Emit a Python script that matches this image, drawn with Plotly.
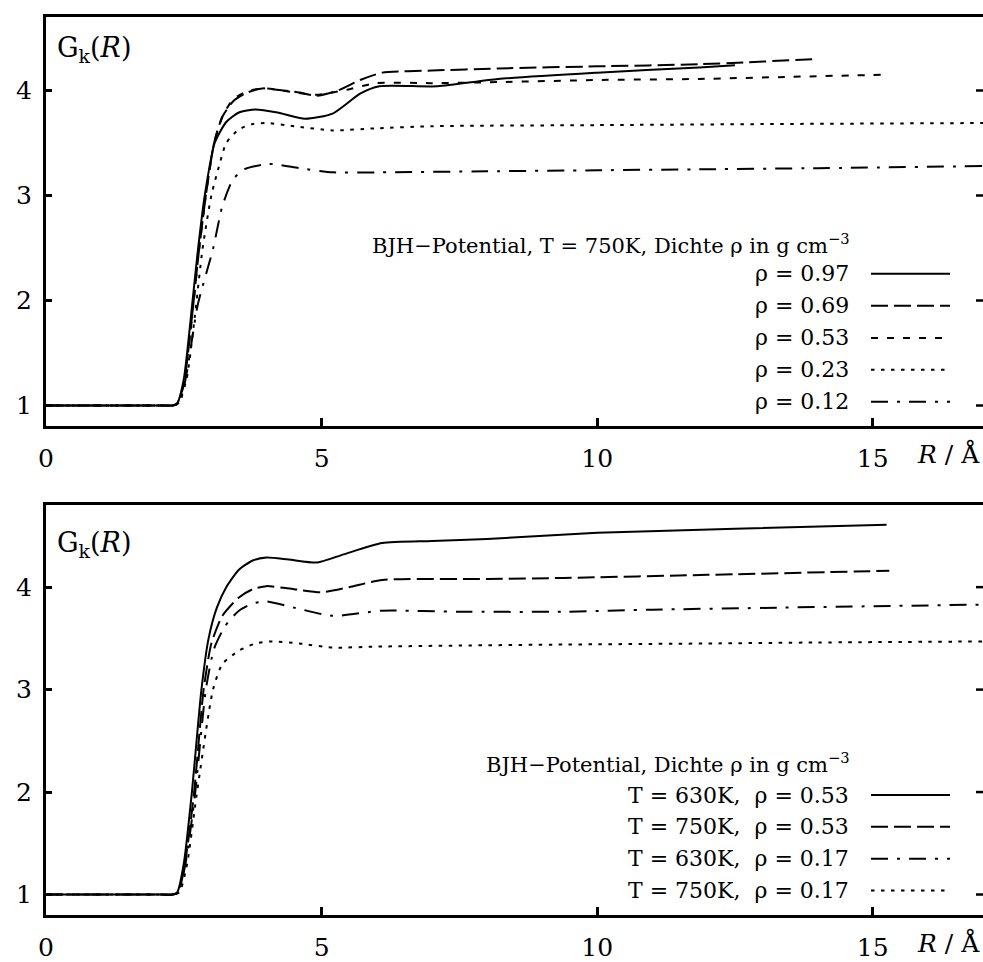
import plotly.graph_objects as go

# ---------------- data ----------------
# Top panel: BJH potential, T = 750 K, various densities
top_labels = ["ρ = 0.97", "ρ = 0.69", "ρ = 0.53", "ρ = 0.23", "ρ = 0.12"]

r_097 = [0, 1.0, 2.0, 2.3, 2.38, 2.5, 2.65, 2.75, 2.88, 3.06, 3.27, 3.5, 3.8, 4.2, 4.7, 5.2, 5.7, 6.05, 7.1, 8.2, 10.0, 11.85, 12.5]
g_097 = [1, 1.0, 1.0, 1.0, 1.02, 1.25, 1.95, 2.45, 3.0, 3.5, 3.7, 3.79, 3.82, 3.79, 3.73, 3.78, 3.97, 4.04, 4.04, 4.11, 4.17, 4.22, 4.24]

r_069 = [0, 1.0, 2.0, 2.3, 2.38, 2.5, 2.65, 2.77, 2.9, 3.05, 3.2, 3.4, 3.65, 3.93, 4.3, 4.6, 4.9, 5.3, 5.7, 6.1, 7.0, 8.2, 10.0, 11.85, 14.0]
g_069 = [1, 1.0, 1.0, 1.0, 1.02, 1.2, 1.85, 2.45, 3.0, 3.5, 3.75, 3.9, 3.98, 4.02, 4.0, 3.98, 3.95, 4.0, 4.1, 4.17, 4.19, 4.21, 4.23, 4.25, 4.30]

r_053 = [0, 1.0, 2.0, 2.3, 2.38, 2.5, 2.65, 2.77, 2.9, 3.05, 3.2, 3.4, 3.7, 4.0, 4.4, 4.9, 5.4, 6.0, 7.0, 8.2, 10.0, 11.85, 13.5, 15.17]
g_053 = [1, 1.0, 1.0, 1.0, 1.02, 1.2, 1.85, 2.45, 3.0, 3.5, 3.75, 3.92, 4.0, 4.02, 3.99, 3.96, 4.0, 4.07, 4.07, 4.08, 4.1, 4.11, 4.13, 4.15]

r_023 = [0, 1.0, 2.0, 2.3, 2.4, 2.55, 2.7, 2.84, 3.0, 3.15, 3.27, 3.5, 3.75, 4.0, 4.5, 5.2, 6.0, 7.0, 10.0, 13.0, 17.0]
g_023 = [1, 1.0, 1.0, 1.0, 1.02, 1.25, 1.85, 2.49, 3.0, 3.3, 3.5, 3.63, 3.68, 3.69, 3.66, 3.62, 3.64, 3.66, 3.67, 3.68, 3.69]

r_012 = [0, 1.0, 2.0, 2.3, 2.42, 2.55, 2.75, 3.03, 3.2, 3.39, 3.6, 4.05, 4.6, 5.2, 6.0, 8.0, 10.0, 12.0, 14.0, 17.0]
g_012 = [1, 1.0, 1.0, 1.0, 1.02, 1.3, 1.95, 2.49, 2.9, 3.15, 3.25, 3.30, 3.26, 3.22, 3.22, 3.23, 3.24, 3.25, 3.26, 3.28]

# Bottom panel: BJH potential, two temperatures, two densities
bot_labels = ["T = 630K,\u00a0 ρ = 0.53", "T = 750K,\u00a0 ρ = 0.53",
              "T = 630K,\u00a0 ρ = 0.17", "T = 750K,\u00a0 ρ = 0.17"]

r_630_053 = [0, 1.0, 2.0, 2.3, 2.38, 2.5, 2.64, 2.82, 2.95, 3.1, 3.27, 3.5, 3.75, 4.0, 4.4, 4.92, 5.4, 6.1, 7.0, 8.0, 10.0, 12.5, 15.25]
g_630_053 = [1, 1.0, 1.0, 1.0, 1.02, 1.3, 1.96, 3.0, 3.5, 3.8, 4.0, 4.17, 4.26, 4.29, 4.27, 4.24, 4.32, 4.43, 4.45, 4.47, 4.53, 4.57, 4.61]

r_750_053 = [0, 1.0, 2.0, 2.3, 2.4, 2.52, 2.68, 2.86, 3.0, 3.2, 3.5, 3.75, 4.0, 4.5, 5.0, 5.5, 6.1, 8.0, 9.4, 12.0, 15.3]
g_750_053 = [1, 1.0, 1.0, 1.0, 1.02, 1.3, 1.96, 3.0, 3.45, 3.72, 3.9, 3.98, 4.01, 3.98, 3.95, 4.0, 4.07, 4.08, 4.09, 4.12, 4.16]

r_630_017 = [0, 1.0, 2.0, 2.3, 2.4, 2.53, 2.7, 2.9, 3.05, 3.25, 3.5, 3.75, 4.0, 4.5, 5.2, 6.1, 7.5, 9.4, 11.0, 13.3, 17.0]
g_630_017 = [1, 1.0, 1.0, 1.0, 1.02, 1.3, 1.96, 3.0, 3.4, 3.62, 3.77, 3.84, 3.86, 3.8, 3.72, 3.77, 3.76, 3.76, 3.78, 3.80, 3.83]

r_750_017 = [0, 1.0, 2.0, 2.3, 2.42, 2.56, 2.73, 3.03, 3.2, 3.5, 3.8, 4.1, 4.6, 5.2, 6.0, 7.5, 9.4, 12.0, 14.0, 17.0]
g_750_017 = [1, 1.0, 1.0, 1.0, 1.02, 1.3, 1.96, 3.0, 3.25, 3.38, 3.45, 3.47, 3.45, 3.41, 3.42, 3.43, 3.44, 3.45, 3.46, 3.47]

x_ticks = [0, 5, 10, 15]
y_ticks = [1, 2, 3, 4]
top_header = "BJH−Potential, T = 750K, Dichte ρ in g cm<sup>−3</sup>"
bot_header = "BJH−Potential, Dichte ρ in g cm<sup>−3</sup>"

# ---------------- styling / layout ----------------
W, H = 983, 962
L, R = 46, 983
T1, B1 = 16.8, 428.4
T2, B2 = 507.6, 919.6
FONT = "DejaVu Serif"
FS_TICK = 25
FS_LEG = 22
FS_HEAD = 21
FS_TITLE = 27

DASH = {
    "solid": "solid",
    "long": "17px,6px",
    "short": "7px,9px",
    "dot": "3.5px,6.5px",
    "dashdot": "17px,9px,3px,9px",
}

top_series = [(r_097, g_097, "solid"), (r_069, g_069, "long"), (r_053, g_053, "short"),
              (r_023, g_023, "dot"), (r_012, g_012, "dashdot")]
bot_series = [(r_630_053, g_630_053, "solid"), (r_750_053, g_750_053, "long"),
              (r_630_017, g_630_017, "dashdot"), (r_750_017, g_750_017, "dot")]

fig = go.Figure()
for (rx, gy, st), lab in zip(top_series, top_labels):
    fig.add_trace(go.Scatter(x=rx, y=gy, mode="lines", name=lab, xaxis="x", yaxis="y",
                             line=dict(color="black", width=2, dash=DASH[st], shape="spline", smoothing=0.6),
                             showlegend=False))
for (rx, gy, st), lab in zip(bot_series, bot_labels):
    fig.add_trace(go.Scatter(x=rx, y=gy, mode="lines", name=lab, xaxis="x2", yaxis="y2",
                             line=dict(color="black", width=2, dash=DASH[st], shape="spline", smoothing=0.6),
                             showlegend=False))

plot_h = B2 - T1
dom_top = [(B2 - B1) / plot_h, 1.0]
dom_bot = [0.0, (B2 - T2) / plot_h]

axis_common = dict(showgrid=False, zeroline=False, showline=True, linecolor="black", linewidth=3,
                   ticks="inside", tickcolor="black", tickwidth=2.5,
                   tickfont=dict(family=FONT, size=FS_TICK, color="black"))

xax = dict(axis_common, range=[0, 17], tickvals=x_ticks, ticklen=8, mirror=True, ticklabelstandoff=8)
yax_left = dict(axis_common, tickvals=y_ticks, ticklen=6, ticklabelstandoff=6)

fig.update_layout(
    width=W, height=H,
    margin=dict(l=L, r=0, t=T1, b=H - B2),
    paper_bgcolor="white", plot_bgcolor="white",
    font=dict(family=FONT, size=FS_LEG, color="black"),
    xaxis=dict(xax, domain=[0, 1], anchor="y"),
    yaxis=dict(yax_left, domain=dom_top, range=[0.8, 4.7], anchor="x"),
    xaxis2=dict(xax, domain=[0, 1], anchor="y2"),
    yaxis2=dict(yax_left, domain=dom_bot, range=[0.8, 4.8], anchor="x2"),
    showlegend=False,
)

annotations = []
shapes = []

# right-hand inward tick marks (the right frame itself lies beyond the page edge)
TICK_FRAC = 7 / (R - L)
for xr, yr in (("x domain", "y"), ("x2 domain", "y2")):
    for tv in y_ticks:
        shapes.append(dict(type="line", xref=xr, yref=yr, x0=1 - TICK_FRAC, x1=1, y0=tv, y1=tv,
                           line=dict(color="black", width=2.5)))

def fx(p):  # figure pixel -> plot-area paper x
    return (p - L) / (R - L)

def fy(p):  # figure pixel -> plot-area paper y
    return (B2 - p) / (B2 - T1)

def text_at(txt, xpx, ypx, xanchor, size):
    annotations.append(dict(text=txt, xref="paper", yref="paper", x=fx(xpx), y=fy(ypx),
                            xanchor=xanchor, yanchor="middle", showarrow=False,
                            font=dict(family=FONT, size=size, color="black")))

# axis titles
text_at("G<sub>k</sub>(<i>R</i>)", 55, 49, "left", FS_TITLE)
text_at("G<sub>k</sub>(<i>R</i>)", 55, 547, "left", FS_TITLE)
text_at("<i>R</i> / Å", 915, 456, "left", FS_TICK)
text_at("<i>R</i> / Å", 915, 948, "left", FS_TICK)

# legends (gnuplot-style: text right, sample to its right)
TXT_R = 851
S0, S1 = 871, 950
text_at(top_header, TXT_R + 1, 245, "right", FS_HEAD)
top_rows = [275, 307, 339.5, 371.5, 403.5]
for (rx, gy, st), lab, yy in zip(top_series, top_labels, top_rows):
    text_at(lab, TXT_R, yy, "right", FS_LEG)
    shapes.append(dict(type="line", xref="paper", yref="paper", x0=fx(S0), x1=fx(S1), y0=fy(yy), y1=fy(yy),
                       line=dict(color="black", width=2, dash=DASH[st])))
text_at(bot_header, TXT_R + 1, 767, "right", FS_HEAD)
bot_rows = [799, 831, 863, 895]
for (rx, gy, st), lab, yy in zip(bot_series, bot_labels, bot_rows):
    text_at(lab, TXT_R, yy, "right", FS_LEG)
    shapes.append(dict(type="line", xref="paper", yref="paper", x0=fx(S0), x1=fx(S1), y0=fy(yy), y1=fy(yy),
                       line=dict(color="black", width=2, dash=DASH[st])))

fig.update_layout(annotations=annotations, shapes=shapes)
fig.write_html("out.html", config={"displayModeBar": False},
               post_script="document.body.style.margin='0';document.body.style.overflow='hidden';")
